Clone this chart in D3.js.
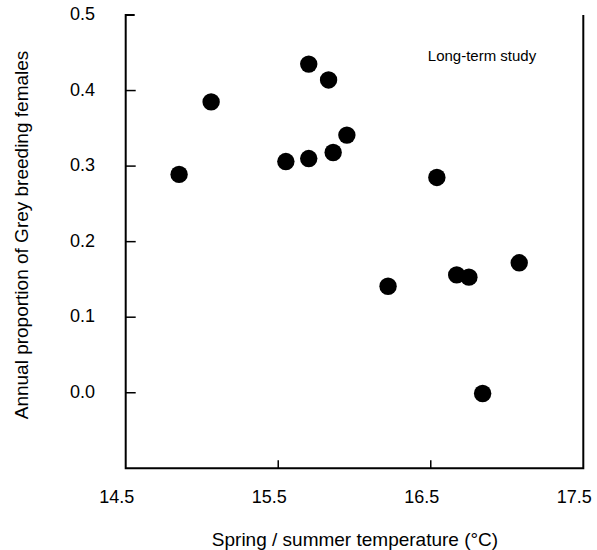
<!DOCTYPE html>
<html>
<head>
<meta charset="utf-8">
<script src="https://cdn.jsdelivr.net/npm/d3@7"></script>
<style>
  body { margin: 0; background: #fff; }
  text { font-family: "Liberation Sans", Arial, sans-serif; fill: #000; }
</style>
</head>
<body>
<svg id="chart"></svg>
<script>
// temperature (°C) vs annual proportion of Grey breeding females
const temperature = [14.85, 15.06, 15.70, 15.83, 15.55, 15.70, 15.86, 15.95, 16.54, 16.22, 16.67, 16.75, 17.08, 16.84];
const greyProportion = [0.289, 0.385, 0.435, 0.414, 0.306, 0.310, 0.318, 0.341, 0.285, 0.141, 0.156, 0.153, 0.172, -0.001];
const xTicks = [14.5, 15.5, 16.5, 17.5];
const yTicks = [0.0, 0.1, 0.2, 0.3, 0.4, 0.5];

const width = 597;
const height = 550;

const svg = d3.select('#chart')
    .attr('width', width)
    .attr('height', height);

const x = d3.scaleLinear()
    .domain([14.5, 17.5])
    .range([125.7, 583.3]);

const y = d3.scaleLinear()
    .domain([-0.1, 0.5])
    .range([468.3, 15]);

// left + bottom + right lines, short cap at top-left
svg.append('path')
    .attr('d', `M${x(14.5) + 9},${y(0.5)} H${x(14.5)} V${y(-0.1)} H${x(17.5)} V${y(0.5)}`)
    .attr('fill', 'none')
    .attr('stroke', '#000')
    .attr('stroke-width', 2);

svg.selectAll('.ytick')
    .data(yTicks.filter(d => d < 0.5))
    .enter().append('line')
    .attr('x1', x(14.5))
    .attr('x2', x(14.5) + 10)
    .attr('y1', d => y(d))
    .attr('y2', d => y(d))
    .attr('stroke', '#000')
    .attr('stroke-width', 1.5);

svg.selectAll('.xtick')
    .data(xTicks.filter(d => d > 14.5 && d < 17.5))
    .enter().append('line')
    .attr('x1', d => x(d))
    .attr('x2', d => x(d))
    .attr('y1', y(-0.1))
    .attr('y2', y(-0.1) - 8)
    .attr('stroke', '#000')
    .attr('stroke-width', 1.5);

svg.selectAll('.ylab')
    .data(yTicks)
    .enter().append('text')
    .attr('x', 95)
    .attr('y', d => y(d) + 5)
    .attr('text-anchor', 'end')
    .attr('font-size', '18px')
    .text(d => d.toFixed(1));

svg.selectAll('.xlab')
    .data(xTicks)
    .enter().append('text')
    .attr('x', d => x(d) - 9)
    .attr('y', 503)
    .attr('text-anchor', 'middle')
    .attr('font-size', '18px')
    .text(d => d.toFixed(1));

svg.append('text')
    .attr('x', 355)
    .attr('y', 546)
    .attr('text-anchor', 'middle')
    .attr('font-size', '19px')
    .text('Spring / summer temperature (°C)');

svg.append('text')
    .attr('transform', 'translate(28,235) rotate(-90)')
    .attr('text-anchor', 'middle')
    .attr('font-size', '19px')
    .text('Annual proportion of Grey breeding females');

svg.append('text')
    .attr('x', 482)
    .attr('y', 61)
    .attr('text-anchor', 'middle')
    .attr('font-size', '15px')
    .text('Long-term study');

const points = temperature.map((t, i) => ({ t: t, p: greyProportion[i] }));

svg.selectAll('circle')
    .data(points)
    .enter().append('circle')
    .attr('cx', d => x(d.t))
    .attr('cy', d => y(d.p))
    .attr('r', 8.7)
    .attr('fill', '#000');
</script>
</body>
</html>
